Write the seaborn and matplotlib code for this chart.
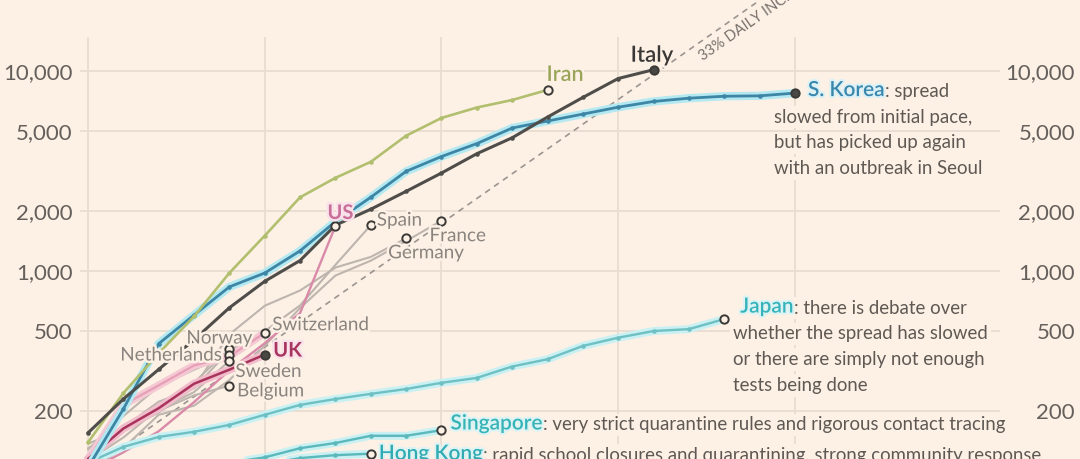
import numpy as np
import pandas as pd
import seaborn as sns
import matplotlib.pyplot as plt
import matplotlib.patheffects as pe
from matplotlib.ticker import NullLocator

# cumulative confirmed cases, day 0 = first day past 100 cases
italy = [155, 229, 322, 453, 655, 888, 1128, 1694, 2036, 2502, 3089, 3858, 4636, 5883, 7375, 9172, 10149]
iran = [139, 245, 388, 593, 978, 1501, 2336, 2922, 3513, 4747, 5823, 6566, 7161, 8042]
s_korea = [104, 204, 433, 602, 833, 977, 1261, 1766, 2337, 3150, 3736, 4335, 5186, 5621,
           6088, 6593, 7041, 7313, 7478, 7513, 7755]
us = [100, 124, 158, 221, 319, 435, 616, 1679]
spain = [120, 165, 222, 259, 400, 500, 673, 1073, 1695]
france = [100, 130, 191, 212, 285, 423, 653, 949, 1126, 1412, 1784]
germany = [130, 159, 196, 262, 482, 670, 799, 1040, 1176, 1457]
switzerland = [114, 214, 268, 337, 374, 491]
uk = [115, 163, 206, 273, 321, 382]
norway = [113, 147, 205, 277, 407]
netherlands = [128, 188, 265, 321, 382]
sweden = [137, 161, 203, 248, 355]
belgium = [109, 169, 200, 239, 267]
japan = [110, 132, 148, 157, 170, 191, 214, 229, 243, 257, 276, 292, 333, 362, 422, 464, 501, 512, 575]
singapore = [102, 106, 108, 110, 110, 117, 130, 138, 150, 150, 160]
hong_kong = [100, 100, 101, 103, 105, 108, 116, 120, 122]

korea_note = ['spread', 'slowed from initial pace,', 'but has picked up again', 'with an outbreak in Seoul']
japan_note = ['there is debate over', 'whether the spread has slowed', 'or there are simply not enough',
              'tests being done']
singapore_note = ['very strict quarantine rules and rigorous contact tracing']
hong_kong_note = ['rapid school closures and quarantining, strong community response']

ytick_values = [200, 500, 1000, 2000, 5000, 10000]
ytick_labels = ['200', '500', '1,000', '2,000', '5,000', '10,000']
xtick_days = [0, 5, 10, 15, 20]
daily_rate = 0.33
rate_days = [0, 19]
rate_label = '33% DAILY INCREASE'

BG = '#FDF1E6'
GRID = '#E9DDD1'
GREY_TXT = '#8a847f'
NOTE_TXT = '#5f5954'

sns.set_style('white', {'axes.facecolor': BG, 'figure.facecolor': BG})
plt.rcParams['font.family'] = ['Lato', 'DejaVu Sans']

fig = plt.figure(figsize=(10.8, 4.59), dpi=100)
ax = fig.add_axes([80 / 1080, 0, 920 / 1080, 422 / 459])
ax.set_yscale('log')
ax.set_xlim(-0.226, 25.8)
ax.set_ylim(114.8, 14790)


def draw_line(values, color, lw, z, halo=None, dots=False):
    d = pd.DataFrame({'day': np.arange(len(values)), 'cases': values})
    if halo is not None:
        sns.lineplot(data=d, x='day', y='cases', ax=ax, color=halo, lw=lw + 4, zorder=z - 0.1,
                     solid_capstyle='round', solid_joinstyle='round')
    kw = dict(marker='o', markersize=3.3, markeredgewidth=0) if dots else {}
    sns.lineplot(data=d, x='day', y='cases', ax=ax, color=color, lw=lw, zorder=z, **kw)
    return d['day'].iloc[-1], d['cases'].iloc[-1]


def end_marker(pt, fill=None):
    ax.plot([pt[0]], [pt[1]], 'o', ms=6, mfc=fill or BG, mec='#3b3936', mew=1.4, zorder=8)


def label(pt, text, dx, dy, color=GREY_TXT, size=13.6, weight='normal', ha='left', glow=BG):
    # dx, dy in image pixels (dy downwards)
    return ax.annotate(text, pt, xytext=(dx, -dy), textcoords='offset pixels', ha=ha, va='baseline',
                       color=color, fontsize=size, fontweight=weight, zorder=10,
                       path_effects=[pe.withStroke(linewidth=3.5, foreground=glow)])


def note(pt, name, color, glow, dx, dy, lines, line_dx, first_dy, gap):
    box = dict(fc=BG, ec='none', pad=2)
    t = ax.annotate(name, pt, xytext=(dx, -dy), textcoords='offset pixels', ha='left', va='baseline',
                    color=color, fontsize=15, fontweight='semibold', zorder=11,
                    path_effects=[pe.withStroke(linewidth=3, foreground=glow)])
    ax.annotate(': ' + lines[0], xy=(1, 0), xycoords=t, ha='left', va='bottom', color=NOTE_TXT,
                fontsize=13.4, zorder=10, bbox=box)
    for i, line in enumerate(lines[1:]):
        ax.annotate(line, pt, xytext=(line_dx, -(first_dy + i * gap)), textcoords='offset pixels',
                    ha='left', va='baseline', color=NOTE_TXT, fontsize=13.4, zorder=10, bbox=box)


# growth reference line
rate_cases = [100 * (1 + daily_rate) ** d for d in rate_days]
ax.plot(rate_days, rate_cases, color='#9b958f', lw=1.2, ls=(0, (3.5, 3)), zorder=2.5, clip_on=False)
p1 = ax.transData.transform((rate_days[0], rate_cases[0]))
p2 = ax.transData.transform((rate_days[1], rate_cases[1]))
angle = np.degrees(np.arctan2(p2[1] - p1[1], p2[0] - p1[0]))
d_lab = 17.4
ax.annotate(rate_label, (d_lab, 100 * (1 + daily_rate) ** d_lab), xytext=(0, -21), textcoords='offset pixels',
            rotation=angle, rotation_mode='anchor', ha='left', va='baseline', color='#77716c',
            fontsize=10.5, zorder=9, annotation_clip=False)

# grey countries
grey = '#bdb5ae'
spain_end = draw_line(spain, grey, 1.5, 3)
france_end = draw_line(france, grey, 1.5, 3)
germany_end = draw_line(germany, grey, 1.5, 3)
norway_end = draw_line(norway, grey, 1.5, 3)
neth_end = draw_line(netherlands, grey, 1.5, 3)
sweden_end = draw_line(sweden, grey, 1.5, 3)
belgium_end = draw_line(belgium, grey, 1.5, 3)

# pinks
swiss_end = draw_line(switzerland, '#e79fb7', 1.6, 3.5, halo='#f4c9d4')
us_end = draw_line(us, '#d98aa9', 1.7, 3.6)
uk_end = draw_line(uk, '#a8345b', 1.8, 3.8, halo='#f1bccb')

# asia
hk_end = draw_line(hong_kong, '#5bb8bb', 1.7, 4, halo='#c9f0f2', dots=True)
sg_end = draw_line(singapore, '#5bb8bb', 1.7, 4, halo='#c9f0f2', dots=True)
japan_end = draw_line(japan, '#6fc0c3', 1.7, 4, halo='#c9f0f2', dots=True)
korea_end = draw_line(s_korea, '#3e86a6', 2.0, 4.5, halo='#b5e9f1', dots=True)

iran_end = draw_line(iran, '#b2bf6e', 1.9, 4.6, dots=True)
italy_end = draw_line(italy, '#4f4d4a', 2.2, 4.7, dots=True)

for pt in [spain_end, france_end, germany_end, norway_end, neth_end, sweden_end, belgium_end,
           swiss_end, us_end, hk_end, sg_end, japan_end, iran_end]:
    end_marker(pt)
for pt in [uk_end, italy_end, korea_end]:
    end_marker(pt, fill='#4a4845')

label(italy_end, 'Italy', -23, -8, color='#3a3836', size=16, weight='semibold')
label(iran_end, 'Iran', -1, -9, color='#9aa55a', size=15.5, weight='semibold')
label(us_end, 'US', -8, -7, color='#c9709a', size=14.5, weight='bold', glow='#f9e2e9')
label(uk_end, 'UK', 8.5, 2, color='#a8365e', size=14.5, weight='bold', glow='#f9e2e9')
label(spain_end, 'Spain', 6, 0.5)
label(france_end, 'France', -12, 20.5)
label(germany_end, 'Germany', -18, 20)
label(swiss_end, 'Switzerland', 7.5, -2.5)
label(norway_end, 'Norway', -43, -5.5)
label(neth_end, 'Netherlands', -7, 6, ha='right')
label(sweden_end, 'Sweden', 6, 16)
label(belgium_end, 'Belgium', 7.7, 10.7)

note(korea_end, 'S. Korea', '#3a87ad', '#dcf1f5', 13, 3, korea_note, -21, 29.5, 25.8)
note(japan_end, 'Japan', '#35b3ba', '#dcf3f4', 16, -6.5, japan_note, 9, 20.3, 25.8)
note(sg_end, 'Singapore', '#35b3b6', '#dcf3f4', 9, -0.7, singapore_note, 9, 26, 25.8)
note(hk_end, 'Hong Kong', '#30abb1', '#dcf3f4', 8, 6, hong_kong_note, 8, 32, 25.8)

# axes styling
ax.set(xlabel='', ylabel='')
ax.set_xticks(xtick_days)
ax.set_yticks(ytick_values)
ax.set_yticklabels(ytick_labels)
ax.yaxis.set_minor_locator(NullLocator())
ax.tick_params(axis='x', length=0, labelbottom=False)
ax.tick_params(axis='y', length=0, pad=5.5, labelsize=16, labelcolor='#66605c')
ax.grid(True, color=GRID, lw=1.3)
ax.set_axisbelow(True)
for s in ax.spines.values():
    s.set_visible(False)

ax2 = ax.twinx()
ax2.set_yscale('log')
ax2.set_ylim(ax.get_ylim())
ax2.set_yticks(ytick_values)
ax2.set_yticklabels(ytick_labels)
ax2.yaxis.set_minor_locator(NullLocator())
ax2.tick_params(axis='y', length=0, pad=54, labelsize=16, labelcolor='#66605c')
for lbl in ax2.get_yticklabels():
    lbl.set_ha('right')
for s in ax2.spines.values():
    s.set_visible(False)

fig.savefig('out.png', dpi=100, facecolor=BG)
